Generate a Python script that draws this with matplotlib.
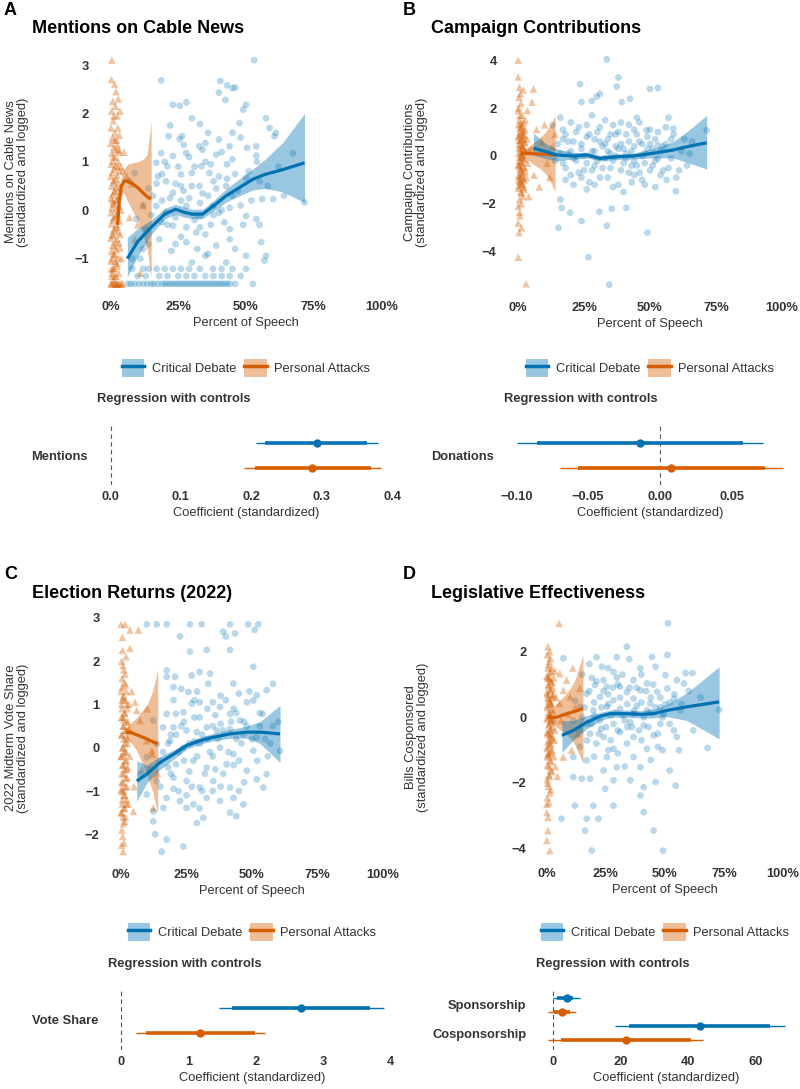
import numpy as np
import matplotlib.pyplot as plt
from matplotlib.lines import Line2D
from matplotlib.patches import Patch
from matplotlib.ticker import PercentFormatter, FuncFormatter

plt.rcParams['font.family'] = ['Liberation Sans', 'DejaVu Sans']

W, H = 800, 1089
BLUE = '#0072B2'
ORANGE = '#D55E00'
DARK = '#333333'
FS = 9.3

# ---------------- data (x in % of speech, y standardized) ----------------
# A: mentions on cable news
a_cd = [(53, 3.1), (18.7, 2.68), (40.5, 2.67), (43, 2.58), (45, 2.52), (46, 2.54), (40, 2.43),
        (50, 2.18), (49, 2.08), (23, 2.18), (25.5, 2.16), (28, 2.23), (42.4, 2.28), (57.4, 1.9),
        (33, 1.78), (47.6, 1.8), (58.7, 1.7), (61, 1.6), (60.5, 1.53), (21.4, 1.53), (25.5, 1.47),
        (26.4, 1.53), (35, 1.39), (32.8, 1.32), (40, 1.46), (43.9, 1.32), (50.4, 1.29), (53.8, 1.32),
        (53.8, 1.13), (67.3, 1.18), (18.7, 1.18), (23, 1.12), (27.9, 1.18), (39, 1.15), (45, 1.05),
        (16.9, 0.98), (21, 0.91), (33.5, 0.91), (36.5, 0.77), (30, 0.77), (26, 0.74), (17.5, 0.7),
        (50, 0.67), (55, 0.6), (8.9, 0.77), (7, 0.6), (20.5, 0.6), (26, 0.5), (32.8, 0.5), (42.7, 0.5),
        (15.6, 0.3), (23, 0.36), (45, 0.3), (56, 0.23), (60, 0.23), (71.6, 0.16), (16.9, 0.09),
        (28, 0.09), (37.8, 0.09), (9.5, -0.18), (20.5, -0.05), (32.8, -0.12), (40, -0.05), (50, -0.12),
        (53.8, -0.18), (13, -0.39), (23, -0.32), (31.6, -0.46), (44, -0.39), (55.6, -0.66), (18, -0.6),
        (28, -0.66), (39, -0.73), (12, -0.8), (22.4, -0.84), (35, -0.94), (50, -0.94), (57.4, -0.94),
        (8, -1.0), (30, -1.08), (42.7, -1.08), (56.8, -1.04), (12, -1.21), (17, -1.21), (23, -1.21),
        (29, -1.21), (37.8, -1.21), (45, -1.21), (10, -1.36), (18, -1.36), (25, -1.36), (31, -1.36),
        (38, -1.36), (44, -1.36), (6.5, -1.52), (9, -1.52), (12, -1.52), (15, -1.52), (17.5, -1.52),
        (20, -1.52), (22, -1.52), (24, -1.52), (26, -1.52), (28, -1.52), (30, -1.52), (32, -1.52),
        (34, -1.52), (36, -1.52), (38, -1.52), (40, -1.52), (42, -1.52), (44, -1.52), (52.5, -1.52),
        (14, 0.45), (19, 0.2), (24, 0.55), (29, 0.25), (34, 0.35), (38, 0.6), (41, 0.0), (46, 0.75),
        (48, 0.1), (35, 1.0), (31, -0.2), (26, -0.55), (21, -0.3), (44, -0.6), (37, -0.3), (27, 1.35),
        (36, 1.6), (43, 0.95), (22, 1.75), (30, 1.9)]
a_cd += [(7.5, -1.52), (10.5, -1.52), (13.5, -1.52), (16, -1.52), (19, -1.52), (21, -1.52), (23, -1.52),
         (25, -1.52), (27, -1.52), (29, -1.52), (31, -1.52), (33, -1.52), (35, -1.52), (37, -1.52),
         (39, -1.52), (41, -1.52), (43, -1.52), (46, -1.52), (14, -1.21), (20, -1.21), (26, -1.21),
         (33, -1.21), (41, -1.21), (50, -1.21), (13, -1.36), (21, -1.36), (28, -1.36), (35, -1.36),
         (41, -1.36), (48, -1.36), (8, -1.21), (12, 0.1), (15, -0.1), (17, 0.55), (19, -0.25), (20, 1.0),
         (22, 0.25), (24, -0.15), (25, 0.9), (27, 0.4), (28, -0.35), (29, 1.1), (30, 0.5), (32, -0.8),
         (33, 0.15), (34, 1.25), (35, -0.5), (36, 0.3), (37, 0.95), (38, -0.1), (39, 0.45), (41, 1.2),
         (42, -0.25), (43, 0.65), (44, 0.05), (46, -0.8), (47, 0.4), (48, 1.5), (49, -0.3), (51, 0.8),
         (52, 0.2), (54, 1.0), (55, -0.3), (58, 0.5), (62, 0.9), (64, 0.3), (19, 0.75), (26, 0.2),
         (31, 0.9), (36, -0.9), (40, 0.7), (45, 1.6), (24, -0.7), (33, -0.35), (14, -0.7), (11, -1.0)]
a_pa = [(0.5, 3.1), (0.3, 2.7), (1.5, 2.6), (2, 2.45), (0.8, 2.25), (1.8, 2.15), (0.4, 2.05), (2.5, 1.95),
        (1, 1.85), (0.2, 1.7), (1.6, 1.6), (0.7, 1.5), (2.2, 1.45), (0.1, 1.38), (1.2, 1.3), (3, 1.25),
        (0.5, 1.18), (1.9, 1.1), (0.9, 1.02), (0.2, 0.95), (2.7, 0.9), (1.4, 0.85), (0.6, 0.78),
        (4.5, 0.82), (0.1, 0.7), (2.1, 0.65), (1.1, 0.58), (0.4, 0.5), (3.2, 0.45), (1.7, 0.4),
        (0.8, 0.33), (0.2, 0.25), (2.4, 0.2), (1.3, 0.12), (0.5, 0.05), (3.8, 0.0), (0.1, -0.05),
        (1.9, -0.12), (0.9, -0.2), (0.3, -0.28), (2.6, -0.35), (1.2, -0.42), (0.6, -0.5), (0.1, -0.58),
        (1.8, -0.65), (0.8, -0.72), (3.5, -0.78), (0.3, -0.85), (1.5, -0.92), (0.6, -1.0), (0.1, -1.05),
        (2.2, -1.1), (0.9, -1.21), (0.3, -1.21), (1.6, -1.36), (0.5, -1.36), (0, -1.52), (0.5, -1.52),
        (1, -1.52), (1.5, -1.52), (2, -1.52), (2.5, -1.52), (3, -1.52), (6, 0.7), (8, 0.55), (10, -0.3),
        (7, -0.15), (12, 0.1), (5, 1.2), (9, -0.6), (4, -1.0), (11, -1.3)]
a_pa += [(1.5, 1.45), (2.5, 1.35), (3.2, 1.2), (1, 1.1), (2.8, 1.0), (1.7, 0.92), (3.3, 0.8), (2.4, 0.72),
         (1.2, 0.62), (3, 0.55), (2, 0.48), (1.4, 0.38), (2.9, 0.3), (2.2, 0.22), (1, 0.15), (3.1, 0.08),
         (1.8, 0.0), (2.6, -0.08), (1.2, -0.15), (3.3, -0.22), (2.1, -0.3), (1.5, -0.38), (2.8, -0.45),
         (1, -0.52), (2.4, -0.6), (3.1, -0.68), (1.6, -0.75), (2.2, -0.82), (1.1, -0.9), (2.9, -0.98),
         (1.8, -1.05), (2.5, -1.15), (1.3, -1.2), (3, -1.3), (2.1, -1.36), (1.1, -1.44), (3.5, -1.52),
         (4, -1.52), (4.5, -1.52), (2.7, 1.7), (1.2, 1.95), (2.9, 2.3), (3.3, 1.55), (1.9, 1.25),
         (0.8, 0.2), (3.6, -0.5), (0.6, -1.3), (3.8, 0.9), (2.3, -1.52), (3.5, 2.05)]
a_cd_fit_x = [6.2, 10, 15, 20, 24, 27, 30, 34, 38, 42.7, 47.6, 52.5, 57, 63.6, 71.6]
a_cd_fit_y = [-1.0, -0.65, -0.35, -0.08, 0.02, -0.04, -0.08, -0.08, 0.09, 0.3, 0.47, 0.64, 0.74, 0.84, 0.98]
a_cd_fit_lo = [-1.38, -0.95, -0.5, -0.18, -0.08, -0.14, -0.17, -0.17, -0.02, 0.17, 0.3, 0.42, 0.45, 0.38, 0.16]
a_cd_fit_hi = [-0.56, -0.38, -0.2, 0.04, 0.12, 0.07, 0.02, 0.02, 0.2, 0.44, 0.65, 0.85, 1.05, 1.4, 2.0]
a_pa_fit_x = [2.6, 3.2, 4, 5, 6.3, 8, 10, 12, 13.5, 15]
a_pa_fit_y = [-0.3, 0.2, 0.5, 0.6, 0.6, 0.55, 0.47, 0.36, 0.28, 0.23]
a_pa_fit_lo = [-0.45, 0.0, 0.3, 0.35, 0.18, 0.0, -0.2, -0.5, -0.8, -1.38]
a_pa_fit_hi = [-0.15, 0.4, 0.7, 0.85, 0.95, 0.98, 1.0, 1.05, 1.15, 1.83]

# B: campaign contributions
b_cd = [(33.6, 4.04), (38, 3.28), (23.5, 3.0), (37.4, 2.9), (29.8, 2.48), (31, 2.6), (50, 2.8), (53, 2.84),
        (42.4, 2.39), (24, 2.25), (39.3, 2.25), (27.9, 2.3), (45, 1.6), (57, 1.6), (58.8, 1.14),
        (71.5, 1.07), (16, 1.6), (13, 1.28), (48.7, 1.07), (16, -1.82), (16.5, -2.17), (19.7, -2.37),
        (24, -2.72), (30.8, -2.33), (35.5, -2.2), (41, -2.17), (33.6, -2.92), (26.6, -4.23),
        (34.5, -5.38), (49, -3.2), (59.8, -1.48), (56.3, -1.0), (15.3, -3.0),
        (15, 0.5), (17, -0.3), (18, 0.9), (19, 0.1), (20, -0.8), (21, 0.6), (22, -0.2), (23, 1.2),
        (24, 0.3), (25, -0.6), (26, 0.8), (27, -1.1), (28, 0.2), (29, -0.4), (30, 1.0), (31, -0.9),
        (32, 0.4), (33, -0.1), (34, 0.7), (35, -0.5), (36, 1.3), (37, 0.0), (38, -1.2), (39, 0.5),
        (40, -0.3), (41, 0.9), (42, -0.7), (43, 0.2), (44, 1.1), (45, -0.4), (46, 0.6), (47, -1.0),
        (48, 0.1), (49, 0.8), (50, -0.6), (51, 0.3), (52, -0.2), (53, 1.0), (54, -0.8), (55, 0.4),
        (57, -0.5), (58, 0.7), (60, -0.9), (62, 0.2), (20, 1.4), (26, -1.4), (33, 1.5), (40, -1.5),
        (46, 1.4), (52, -1.3), (18, -1.0), (28, 1.7), (37, 0.9), (43, -1.1), (24, -0.9), (31, 0.6),
        (35, 0.1), (47, 0.5), (22, 0.0), (29, 0.7), (41, 0.1), (56, 1.2), (64, -0.4), (66, 0.6),
        (17, 1.1), (38, 0.3), (44, -0.2), (50, 0.5)]
b_cd += [(16, 0.1), (18, -0.5), (19, 0.6), (21, -0.1), (22, 1.0), (23, -0.7), (24, 0.5), (25, 0.0),
         (26, -0.3), (27, 0.9), (28, -0.6), (29, 0.2), (30, -0.2), (31, 1.2), (32, -0.5), (33, 0.5),
         (34, -0.9), (35, 0.9), (36, -0.2), (37, 0.4), (38, 1.0), (39, -0.6), (40, 0.3), (41, -0.1),
         (42, 0.6), (43, -0.4), (44, 0.4), (45, 0.9), (46, -0.7), (47, 0.0), (48, -0.3), (49, 0.3),
         (50, 1.1), (51, -0.4), (52, 0.7), (53, -0.1), (54, 0.2), (55, -0.6), (56, 0.5), (58, -0.1),
         (59, 0.9), (61, -0.6), (63, 0.7), (65, 0.1), (14, -0.2), (17, 0.7), (20, 0.2), (26, 1.3),
         (34, 0.2), (42, 1.3), (48, -1.2), (36, -1.3), (29, -1.2), (53, 0.45), (44, -0.8), (39, 1.4),
         (21, -1.2)]
b_pa = [(0, 4.0), (0, 3.3), (0.5, 2.87), (2, 2.76), (5.8, 2.8), (0.3, 2.45), (1, 2.2), (5.2, 2.25),
        (0, 1.9), (1.5, 1.7), (0.5, 1.5), (2, 1.4), (0.2, 1.3), (1.1, 1.2), (2.6, 1.1), (0.6, 1.0),
        (1.8, 0.9), (0.1, 0.8), (1.3, 0.7), (2.3, 0.6), (0.4, 0.5), (1.6, 0.4), (0.8, 0.3), (2.8, 0.2),
        (0.2, 0.1), (1.2, 0.0), (2, -0.1), (0.5, -0.2), (1.5, -0.3), (0.1, -0.4), (2.5, -0.5),
        (0.9, -0.6), (1.7, -0.7), (0.3, -0.8), (1.1, -0.9), (2.2, -1.0), (0.6, -1.1), (1.4, -1.2),
        (0.2, -1.35), (1, -1.5), (0.5, -1.82), (0, -2.1), (0.7, -2.5), (0, -2.8), (0.4, -3.2),
        (0, -4.23), (3, -5.34), (7, 1.1), (9, 0.6), (11, -0.3), (13, 0.4), (6, -0.8), (8, -1.3),
        (10, 1.3), (12, -0.9), (14, 0.9), (5, 0.3), (4, -1.7), (3.5, 1.9), (0.3, 0.65), (1.9, 0.35),
        (0.7, -0.45), (1.3, -0.05), (2.4, 0.85), (0.9, 1.35), (0.15, -1.0), (2.1, -1.3)]
b_pa += [(1.6, 1.25), (0.7, 1.15), (2.1, 1.05), (1.2, 0.95), (0.4, 0.85), (1.9, 0.75), (0.9, 0.65),
         (2.5, 0.55), (1.4, 0.45), (0.3, 0.35), (2.2, 0.25), (1.0, 0.15), (1.7, 0.05), (0.5, -0.05),
         (2.4, -0.15), (1.1, -0.25), (0.2, -0.35), (1.9, -0.45), (0.8, -0.55), (2.6, -0.65), (1.3, -0.75),
         (0.4, -0.85), (2.0, -0.95), (0.9, -1.05), (1.6, -1.15), (0.3, -1.25), (2.3, -1.4), (1.2, -1.55),
         (0.6, 1.7), (1.8, -1.7), (0.2, 2.0), (1.1, -2.0), (2.7, 1.5), (3.3, 0.7), (3.6, -0.3), (4, 0.2),
         (3.1, -0.9), (0.8, 2.6), (0.5, -2.35), (1.2, -3.0)]
b_cd_fit_x = [5.8, 10, 14.6, 21, 26, 31, 37.4, 43.7, 51, 58.8, 65, 71.5]
b_cd_fit_y = [0.33, 0.2, 0.04, 0.0, 0.04, -0.1, -0.03, 0.0, 0.11, 0.25, 0.41, 0.55]
b_cd_fit_lo = [0.04, -0.1, -0.2, -0.13, -0.08, -0.2, -0.15, -0.12, -0.08, -0.08, -0.3, -0.55]
b_cd_fit_hi = [0.95, 0.55, 0.3, 0.13, 0.16, 0.02, 0.08, 0.12, 0.3, 0.6, 1.1, 1.7]
b_pa_fit_x = [0.8, 2, 4, 6, 8, 10, 12, 14]
b_pa_fit_y = [0.12, 0.11, 0.1, 0.09, 0.08, 0.07, 0.06, 0.05]
b_pa_fit_lo = [0.02, -0.05, -0.2, -0.37, -0.5, -0.7, -1.0, -1.5]
b_pa_fit_hi = [0.22, 0.27, 0.38, 0.58, 0.75, 0.95, 1.25, 1.7]

# C: election returns
c_cd = [(9.8, 2.85), (13.6, 2.85), (17.4, 2.85), (26.3, 2.85), (30.8, 2.85), (41.6, 2.85), (48.5, 2.85),
        (52.4, 2.85), (22.5, 2.57), (39, 2.68), (40, 2.57), (43.5, 2.64), (51, 2.72), (26.3, 2.22),
        (32.7, 2.26), (41.6, 2.26), (50.5, 1.87), (58, 1.48), (17.4, 1.64), (20.6, 1.64), (27, 1.67),
        (30, 1.75), (34, 1.71), (17.4, 1.79), (20, 1.4), (23, 1.36), (33.3, 1.48), (42.9, 1.48),
        (45, 1.25), (51.8, 1.21), (55.6, 1.33), (25.7, 1.29), (27, 1.02), (30, 1.05), (35, 1.05),
        (37.8, 0.94), (48, 1.05), (50.5, 1.09), (21, 0.78), (23.8, 0.82), (17.4, 0.78), (30, 0.7),
        (41.6, 0.78), (45.4, 0.63), (54, 0.78), (12.3, 0.63), (16, 0.47), (20, 0.47), (25, 0.4),
        (28.9, 0.36), (32.7, 0.47), (36.5, 0.4), (41.6, 0.43), (46.7, 0.32), (51.8, 0.24), (60.7, -0.07),
        (13.6, 0.09), (18.7, 0.16), (23.8, 0.0), (30, 0.09), (37.8, 0.0), (42.9, -0.15), (50.5, -0.07),
        (9.8, -0.22), (14.9, -0.3), (21, -0.38), (27.6, -0.3), (32.7, -0.46), (40.3, -0.38), (48, -0.53),
        (55.6, -0.61), (7.3, -0.61), (13.6, -0.77), (20, -0.69), (25, -0.77), (30, -0.92), (35.2, -0.77),
        (41.6, -0.92), (51.8, -0.73), (54.3, -0.92), (9.8, -1.08), (17.4, -1.16), (22.5, -1.23),
        (27.6, -1.31), (32.7, -1.16), (37.8, -1.23), (42.9, -1.16), (46.7, -1.31), (12.3, -1.47),
        (16.2, -1.39), (25, -1.39), (31.4, -1.62), (41.6, -1.5), (44, -1.58), (28.9, -1.74), (12.3, -1.7),
        (13, -2.0), (17.4, -2.12), (23.8, -2.28), (15.5, -2.4), (19, 0.3), (24, 0.6), (28, 0.15),
        (33, 0.2), (38, 0.55), (44, 0.2), (47, 0.6), (22, -0.1), (26, -0.55), (35, -0.2), (39, -0.6),
        (45, -0.3), (18, -0.45), (29, 1.3), (36, 0.75), (53, 0.5), (57, 0.1), (31, -1.0), (20, -0.95),
        (43, 0.9)]
c_cd += [(15, -0.9), (18, 0.1), (19, -0.6), (21, 0.3), (22, -1.0), (23, 0.5), (24, -0.3), (26, 0.1),
         (27, -0.9), (28, 0.7), (29, -0.2), (31, 0.3), (32, -0.6), (33, 0.9), (34, -0.1), (35, 0.5),
         (36, -0.5), (37, 0.2), (38, -0.9), (39, 0.4), (40, 1.1), (41, -0.1), (42, 0.6), (43, -0.4),
         (44, 0.8), (46, 0.1), (47, -0.8), (48, 0.5), (49, 1.3), (50, 0.2), (52, -0.3), (53, 0.8),
         (55, 0.2), (56, -0.2), (58, 0.5), (60, 0.6), (25, -1.1), (30, -1.4), (35, -1.0), (20, 1.1),
         (28, 1.1), (45, -1.0), (16, -0.1), (11, -0.5), (38, 1.2)]
c_pa = [(0, 2.85), (1.5, 2.85), (3.4, 2.72), (6.6, 2.72), (0.5, 2.25), (3.4, 2.3), (0.2, 2.0), (1, 1.8),
        (0.4, 1.6), (1.8, 1.45), (0, 1.3), (0.9, 1.15), (2.2, 1.0), (0.3, 0.9), (1.4, 0.8), (0.1, 0.7),
        (2.6, 0.6), (0.7, 0.5), (1.7, 0.4), (0.2, 0.3), (1.1, 0.2), (2.4, 0.1), (0.5, 0.0), (1.5, -0.1),
        (0, -0.2), (2, -0.3), (0.8, -0.4), (1.3, -0.5), (0.3, -0.6), (2.3, -0.7), (0.6, -0.8),
        (1.6, -0.9), (0.1, -1.0), (1, -1.1), (2.1, -1.2), (0.4, -1.3), (1.2, -1.4), (0, -1.5),
        (0.7, -1.6), (1.4, -1.7), (0.3, -1.9), (0.6, -2.05), (0.2, -2.25), (0.8, -2.4), (5.3, 1.05),
        (6, 0.86), (7.3, 0.63), (9.8, 0.16), (11.7, -0.07), (12, -0.15), (4.7, -1.47), (12.3, -1.39),
        (4, 1.3), (8, -0.5), (10, 0.9), (5, -0.9), (14, -0.6), (3, 0.45), (0.4, 1.1), (1.9, 0.25),
        (0.9, -0.15), (0.2, -0.95), (1.1, 0.65), (2.5, -0.45)]
c_pa += [(1.2, 1.5), (0.4, 1.4), (2.0, 1.3), (0.9, 1.2), (1.6, 1.1), (0.2, 1.0), (2.4, 0.9), (1.3, 0.8),
         (0.6, 0.7), (2.1, 0.6), (1.0, 0.5), (1.8, 0.4), (0.3, 0.3), (2.5, 0.2), (1.4, 0.1), (0.8, 0.0),
         (2.0, -0.1), (0.1, -0.2), (1.6, -0.3), (0.6, -0.4), (2.3, -0.5), (1.1, -0.6), (1.8, -0.7),
         (0.3, -0.8), (2.2, -0.9), (0.9, -1.0), (1.5, -1.1), (0.5, -1.2), (2.0, -1.3), (1.2, -1.4),
         (0.2, -1.5), (1.7, -1.6), (0.9, -1.75), (1.5, 1.7), (0.7, 1.9), (1.9, 2.1), (2.7, -1.3),
         (3, 1.0), (3.3, -0.2), (0.5, 2.55), (1.1, -2.2), (2.6, 0.4)]
c_cd_fit_x = [6, 9.8, 14.9, 20, 25, 30, 35, 41.6, 48, 53, 60.7]
c_cd_fit_y = [-0.77, -0.61, -0.34, -0.15, 0.05, 0.16, 0.24, 0.32, 0.36, 0.36, 0.32]
c_cd_fit_lo = [-1.23, -0.82, -0.5, -0.27, -0.03, 0.08, 0.16, 0.22, 0.22, 0.1, -0.34]
c_cd_fit_hi = [-0.3, -0.4, -0.2, -0.05, 0.12, 0.24, 0.33, 0.42, 0.5, 0.6, 0.98]
c_pa_fit_x = [2, 3.4, 6, 8, 10, 12, 14]
c_pa_fit_y = [0.35, 0.36, 0.3, 0.25, 0.2, 0.14, 0.09]
c_pa_fit_lo = [0.25, 0.15, -0.07, -0.35, -0.65, -1.0, -1.53]
c_pa_fit_hi = [0.45, 0.55, 0.7, 0.85, 1.0, 1.3, 1.8]

# D: legislative effectiveness
d_cd = [(51.3, 2.86), (33.9, 2.15), (7, 1.8), (21, 1.83), (29.6, 1.83), (34.9, 1.77), (44.5, 1.84),
        (51, 1.9), (18, 1.62), (23.3, 1.54), (28.2, 1.38), (39.6, 1.49), (46, 1.54), (58.7, 1.35),
        (61.6, 1.35), (50.2, 1.28), (29.6, 1.21), (24, 1.13), (36.7, 1.13), (42.4, 1.03), (55, 1.13),
        (20.4, 0.98), (25.4, 0.93), (31, 0.93), (33.9, 0.77), (39.6, 0.82), (46.7, 0.77), (51, 0.88),
        (58, 1.03), (16.9, 0.72), (22.5, 0.62), (28.2, 0.52), (36.7, 0.57), (43.8, 0.42), (53.8, 0.57),
        (14, 0.32), (19.7, 0.21), (25.4, 0.32), (31, 0.26), (36.7, 0.11), (42.4, 0.21), (49.5, 0.11),
        (56.6, 0.21), (72.9, 0.23), (11.2, -0.1), (16.9, -0.2), (22.5, -0.1), (28.2, -0.2), (35.3, -0.15),
        (41, -0.25), (48, -0.2), (53.8, -0.4), (18.3, -0.5), (24, -0.6), (31, -0.45), (36.7, -0.6),
        (45.2, -0.55), (14, -0.9), (21, -0.8), (28.2, -0.96), (33.9, -0.8), (42.4, -0.96), (55.9, -1.0),
        (68, -0.93), (11.2, -1.21), (16.9, -1.31), (25.4, -1.21), (36.7, -1.21), (29.6, -1.52),
        (24, -1.62), (39.6, -1.52), (52, -1.62), (11.2, -1.82), (14.8, -1.87), (18.3, -1.87),
        (28.2, -1.92), (35.3, -1.92), (41, -2.13), (46, -1.97), (54.5, -2.08), (24.7, -2.18),
        (39.6, -2.38), (11.9, -2.69), (19.7, -2.69), (28.2, -2.69), (6.2, -3.09), (16.9, -3.09),
        (21.8, -3.09), (41, -2.89), (16.2, -3.45), (45.2, -3.45), (19, -4.06), (49.2, -4.06),
        (20, 0.45), (26, 0.7), (32, 0.05), (38, 0.35), (44, 0.6), (48, 0.3), (23, -0.35), (27, 0.05),
        (34, -0.3), (40, -0.7), (47, -0.9), (30, 1.0), (19, 1.2), (26, -1.0), (15, 0.0), (52, 0.45)]
d_cd += [(12, 0.5), (14, -0.4), (16, 0.3), (17, -0.7), (18, 0.8), (19, -0.2), (20, 0.05), (21, 1.1),
         (22, -0.5), (23, 0.3), (24, 0.8), (25, -0.3), (26, 0.4), (27, -0.7), (28, 0.9), (29, 0.15),
         (30, -0.4), (31, 0.6), (32, 1.3), (33, -0.1), (34, 0.4), (35, 0.9), (36, -0.3), (37, 0.2),
         (38, 0.9), (39, -0.4), (40, 0.45), (41, 0.0), (42, 0.8), (43, -0.3), (44, 0.15), (45, 1.0),
         (46, 0.3), (47, -0.5), (48, 0.6), (49, 0.0), (50, 0.4), (52, -0.2), (54, 0.7), (55, -0.6),
         (57, 0.4), (60, 0.8), (62, -0.4), (65, 0.6), (20, -1.2), (30, -1.1), (33, -1.5), (44, -1.3),
         (49, -1.0), (15, 1.3), (26, 1.5), (40, 1.3)]
d_pa = [(5.2, 2.86), (0.5, 2.15), (5.5, 1.33), (8.4, 1.13), (7, 0.82), (14, 0.88), (9.8, 0.62),
        (5.5, 0.42), (10.5, -1.0), (7, -1.21), (0, -2.65), (0.5, -3.05), (0.5, -3.45), (1.3, -4.06),
        (0, -3.75), (0, -2.9), (0.2, 1.9), (1, 1.7), (0.5, 1.5), (1.8, 1.4), (0, 1.25), (1.2, 1.15),
        (2.3, 1.05), (0.6, 0.95), (1.6, 0.85), (0.1, 0.75), (2.6, 0.65), (0.9, 0.55), (1.5, 0.45),
        (0.3, 0.35), (2, 0.25), (0.7, 0.15), (1.3, 0.05), (0, -0.05), (2.4, -0.15), (0.8, -0.25),
        (1.7, -0.35), (0.2, -0.45), (1.1, -0.55), (2.2, -0.65), (0.5, -0.75), (1.4, -0.85), (0, -0.95),
        (1.9, -1.05), (0.7, -1.15), (1.2, -1.3), (0.3, -1.45), (1.6, -1.6), (0.9, -1.75), (0.1, -1.9),
        (0.6, -2.1), (1.4, -2.3), (0.2, -2.45), (3, 1.2), (3.5, -0.4), (4, 0.6), (3, -1.2), (12, 0.3),
        (13, -0.5), (6, -0.1), (9, 0.1), (11, 1.5), (4.5, -1.8), (0.4, 0.6), (1.8, -0.5), (0.9, 1.2),
        (2.1, 0.4), (0.5, -1.1), (1.5, -0.1)]
d_pa += [(1.5, 1.8), (0.7, 1.6), (2.1, 1.5), (1.1, 1.35), (0.3, 1.2), (1.9, 1.1), (0.8, 1.0), (2.5, 0.9),
         (1.3, 0.8), (0.4, 0.7), (2.2, 0.6), (1.0, 0.5), (1.7, 0.4), (0.2, 0.3), (2.4, 0.2), (1.2, 0.1),
         (0.6, 0.0), (1.9, -0.1), (0.9, -0.2), (2.6, -0.3), (1.4, -0.4), (0.3, -0.5), (2.0, -0.6),
         (1.0, -0.7), (1.7, -0.8), (0.5, -0.9), (2.3, -1.0), (1.2, -1.1), (0.2, -1.2), (1.9, -1.35),
         (0.8, -1.5), (2.2, -1.65), (1.1, -1.8), (0.4, -2.0), (1.6, -2.2), (2.8, 0.7), (3.2, -0.7),
         (3.5, 1.4), (3.6, -1.5), (0.9, -2.6), (1.2, 2.0), (2.9, -0.05)]
d_cd_fit_x = [6.4, 11.2, 16.9, 22.5, 26.8, 33.9, 39.6, 45.2, 50.9, 59.4, 72.9]
d_cd_fit_y = [-0.55, -0.4, -0.15, 0.03, 0.11, 0.11, 0.09, 0.11, 0.21, 0.32, 0.47]
d_cd_fit_lo = [-1.06, -0.7, -0.35, -0.1, 0.0, 0.0, -0.02, -0.02, 0.02, -0.1, -0.66]
d_cd_fit_hi = [-0.1, -0.1, 0.05, 0.15, 0.22, 0.22, 0.2, 0.24, 0.4, 0.75, 1.54]
d_pa_fit_x = [0.5, 2, 4, 6, 8, 10, 12, 15.3]
d_pa_fit_y = [0.0, 0.0, 0.0, 0.05, 0.1, 0.14, 0.18, 0.27]
d_pa_fit_lo = [-0.05, -0.15, -0.3, -0.4, -0.5, -0.65, -0.85, -1.4]
d_pa_fit_hi = [0.05, 0.2, 0.42, 0.55, 0.7, 0.9, 1.15, 1.9]

# regression with controls: estimate, inner (thick) and outer (thin) intervals
a_rows = ['Mentions']
a_cd_est, a_cd_in, a_cd_out = [0.293], [(0.22, 0.365)], [(0.207, 0.38)]
a_pa_est, a_pa_in, a_pa_out = [0.287], [(0.205, 0.37)], [(0.19, 0.385)]
b_rows = ['Donations']
b_cd_est, b_cd_in, b_cd_out = [-0.014], [(-0.0854, 0.0576)], [(-0.0993, 0.0715)]
b_pa_est, b_pa_in, b_pa_out = [0.0076], [(-0.057, 0.073)], [(-0.0694, 0.0855)]
c_rows = ['Vote Share']
c_cd_est, c_cd_in, c_cd_out = [2.67], [(1.65, 3.69)], [(1.45, 3.9)]
c_pa_est, c_pa_in, c_pa_out = [1.17], [(0.37, 1.98)], [(0.22, 2.13)]
d_rows = ['Sponsorship', 'Cosponsorship']
d_cd_est, d_cd_in, d_cd_out = [4.1, 43.6], [(1.2, 6.0), (22.6, 64.3)], [(0.1, 8.0), (18.4, 68.7)]
d_pa_est, d_pa_in, d_pa_out = [2.6, 21.6], [(0.3, 5.0), (2.4, 40.9)], [(-1.5, 6.8), (-1.5, 44.4)]

fig = plt.figure(figsize=(8, 10.89), dpi=100)


def box(l, t, r, b):
    return [l / W, 1 - b / H, (r - l) / W, (b - t) / H]


def fx(px):
    return px / W


def fy(py):
    return 1 - py / H


def clean(ax):
    for s in ax.spines.values():
        s.set_visible(False)
    ax.tick_params(length=0, labelsize=FS, labelcolor=DARK, pad=4)
    for lab in ax.get_xticklabels() + ax.get_yticklabels():
        lab.set_fontweight('bold')


def scatter_panel(rect, cd, pa, cd_fit, pa_fit, yticks):
    ax = fig.add_axes(box(*rect))
    cd = np.array(cd)
    pa = np.array(pa)
    ax.scatter(cd[:, 0] / 100, cd[:, 1], s=24, color=BLUE, alpha=0.27, edgecolors='none', zorder=1)
    ax.scatter(pa[:, 0] / 100, pa[:, 1], s=30, marker='^', color=ORANGE, alpha=0.36,
               edgecolors='none', zorder=1)
    for fit, c in ((pa_fit, ORANGE), (cd_fit, BLUE)):
        x, y, lo, hi = (np.array(v) for v in fit)
        ax.fill_between(x / 100, lo, hi, color=c, alpha=0.4, lw=0, zorder=2)
        ax.plot(x / 100, y, color=c, lw=2.3, zorder=3, solid_capstyle='butt')
    ax.set_xlim(-0.05, 1.05)
    ax.set_xticks([0, 0.25, 0.5, 0.75, 1.0])
    ax.xaxis.set_major_formatter(PercentFormatter(1.0, decimals=0))
    ax.set_yticks(yticks)
    ax.set_xlabel('Percent of Speech', fontsize=FS, color=DARK, labelpad=3)
    clean(ax)
    ax.tick_params(axis='y', pad=6)
    return ax


def coef_panel(rect, rows, cd, pa, xticks, fmt):
    ax = fig.add_axes(box(*rect))
    n = len(rows)
    ypos = np.arange(n, 0, -1)
    lows = [0]
    highs = [0]
    for (est, inner, outer), c, off in ((cd, BLUE, 0.25), (pa, ORANGE, -0.25)):
        inner = np.array(inner)
        outer = np.array(outer)
        yy = ypos + off
        ax.hlines(yy, outer[:, 0], outer[:, 1], color=c, lw=1.0)
        ax.hlines(yy, inner[:, 0], inner[:, 1], color=c, lw=2.6)
        ax.plot(est, yy, 'o', color=c, ms=5, mec=c)
        lows.append(outer[:, 0].min())
        highs.append(outer[:, 1].max())
    lo, hi = min(lows), max(highs)
    pad = (hi - lo) * 0.05
    ax.set_xlim(lo - pad, hi + pad)
    ax.set_ylim(0.4, n + 0.6)
    ax.axvline(0, color='#555555', lw=0.8, ls=(0, (4, 3)), zorder=0)
    ax.set_xticks(xticks)
    ax.xaxis.set_major_formatter(FuncFormatter(lambda v, p: fmt.format(v).replace('-', '\u2212')))
    ax.set_yticks(ypos, rows)
    ax.set_xlabel('Coefficient (standardized)', fontsize=FS, color=DARK, labelpad=3)
    clean(ax)
    ax.tick_params(axis='y', pad=7)
    return ax


def legend_at(cx, cy):
    handles = [(Patch(facecolor=BLUE, alpha=0.4, edgecolor='none'), Line2D([], [], color=BLUE, lw=2.5)),
               (Patch(facecolor=ORANGE, alpha=0.4, edgecolor='none'), Line2D([], [], color=ORANGE, lw=2.5))]
    fig.legend(handles, ['Critical Debate', 'Personal Attacks'], loc='center',
               bbox_to_anchor=(fx(cx), fy(cy)), ncol=2, frameon=False, fontsize=FS,
               handlelength=1.75, handleheight=1.7, handletextpad=0.6, columnspacing=0.6,
               labelcolor=DARK)


panels = [
    dict(letter='A', title='Mentions on Cable News', lx=4, ty=15, tt=33,
         ylabel='Mentions on Cable News\n(standardized and logged)', ylx=17,
         srect=(97, 49, 395, 295), crect=(97, 425, 395, 485), leg_y=368, reg_y=399,
         cd=a_cd, pa=a_pa, cd_fit=(a_cd_fit_x, a_cd_fit_y, a_cd_fit_lo, a_cd_fit_hi),
         pa_fit=(a_pa_fit_x, a_pa_fit_y, a_pa_fit_lo, a_pa_fit_hi), yticks=[-1, 0, 1, 2, 3],
         rows=a_rows, ccd=(a_cd_est, a_cd_in, a_cd_out), cpa=(a_pa_est, a_pa_in, a_pa_out),
         cticks=[0, 0.1, 0.2, 0.3, 0.4], fmt='{:.1f}'),
    dict(letter='B', title='Campaign Contributions', lx=403, ty=15, tt=33,
         ylabel='Campaign Contributions\n(standardized and logged)', ylx=416,
         srect=(505, 48, 795, 296), crect=(504, 425, 796, 485), leg_y=368, reg_y=399,
         cd=b_cd, pa=b_pa, cd_fit=(b_cd_fit_x, b_cd_fit_y, b_cd_fit_lo, b_cd_fit_hi),
         pa_fit=(b_pa_fit_x, b_pa_fit_y, b_pa_fit_lo, b_pa_fit_hi), yticks=[-4, -2, 0, 2, 4],
         rows=b_rows, ccd=(b_cd_est, b_cd_in, b_cd_out), cpa=(b_pa_est, b_pa_in, b_pa_out),
         cticks=[-0.10, -0.05, 0.0, 0.05], fmt='{:.2f}'),
    dict(letter='C', title='Election Returns (2022)', lx=4, ty=579, tt=598,
         ylabel='2022 Midterm Vote Share\n(standardized and logged)', ylx=17,
         srect=(108, 613, 396, 863), crect=(108, 990, 397, 1050), leg_y=932, reg_y=964,
         cd=c_cd, pa=c_pa, cd_fit=(c_cd_fit_x, c_cd_fit_y, c_cd_fit_lo, c_cd_fit_hi),
         pa_fit=(c_pa_fit_x, c_pa_fit_y, c_pa_fit_lo, c_pa_fit_hi), yticks=[-2, -1, 0, 1, 2, 3],
         rows=c_rows, ccd=(c_cd_est, c_cd_in, c_cd_out), cpa=(c_pa_est, c_pa_in, c_pa_out),
         cticks=[0, 1, 2, 3, 4], fmt='{:.0f}'),
    dict(letter='D', title='Legislative Effectiveness', lx=403, ty=579, tt=598,
         ylabel='Bills Cosponsored\n(standardized and logged)', ylx=417,
         srect=(535, 612, 795, 862), crect=(536, 988, 797, 1050), leg_y=932, reg_y=964,
         cd=d_cd, pa=d_pa, cd_fit=(d_cd_fit_x, d_cd_fit_y, d_cd_fit_lo, d_cd_fit_hi),
         pa_fit=(d_pa_fit_x, d_pa_fit_y, d_pa_fit_lo, d_pa_fit_hi), yticks=[-4, -2, 0, 2],
         rows=d_rows, ccd=(d_cd_est, d_cd_in, d_cd_out), cpa=(d_pa_est, d_pa_in, d_pa_out),
         cticks=[0, 20, 40, 60], fmt='{:.0f}'),
]

for p in panels:
    scatter_panel(p['srect'], p['cd'], p['pa'], p['cd_fit'], p['pa_fit'], p['yticks'])
    coef_panel(p['crect'], p['rows'], p['ccd'], p['cpa'], p['cticks'], p['fmt'])
    l, t, r, b = p['srect']
    fig.text(fx(p['lx']), fy(p['ty']), p['letter'], fontsize=13, fontweight='bold', va='baseline')
    fig.text(fx(p['lx'] + 28), fy(p['tt']), p['title'], fontsize=13, fontweight='bold', va='baseline')
    fig.text(fx(p['ylx']), fy((t + b) / 2), p['ylabel'], rotation=90, ha='center', va='center',
             multialignment='center', fontsize=FS, color=DARK, linespacing=1.1)
    legend_at((l + r) / 2, p['leg_y'])
    fig.text(fx(p['crect'][0]), fy(p['reg_y']), 'Regression with controls', fontsize=FS,
             fontweight='bold', color=DARK, va='center')

fig.savefig('out.png', dpi=100)
